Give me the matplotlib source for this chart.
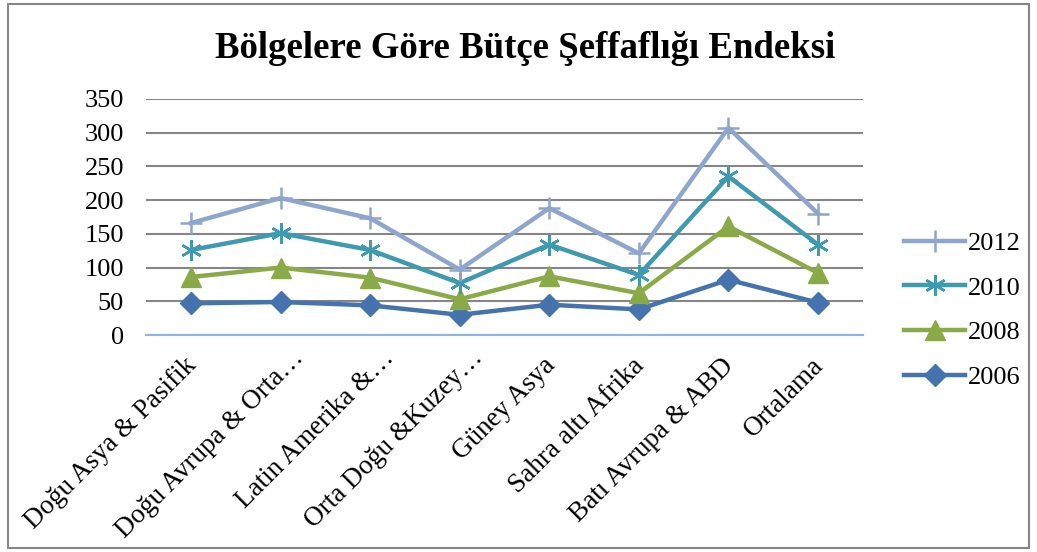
import matplotlib.pyplot as plt
from matplotlib.patches import Rectangle
from matplotlib.transforms import ScaledTranslation

# Data
regions = ['Doğu Asya & Pasifik', 'Doğu Avrupa & Orta…', 'Latin Amerika &…',
           'Orta Doğu &Kuzey…', 'Güney Asya', 'Sahra altı Afrika',
           'Batı Avrupa & ABD', 'Ortalama']
y2012 = [166, 203, 173, 97, 188, 121, 307, 180]
y2010 = [126, 151, 126, 77, 134, 89, 235, 134]
y2008 = [86, 100, 85, 53, 87, 62, 161, 92]
y2006 = [47, 49, 44, 30, 45, 38, 82, 48]

plt.rcParams['font.family'] = ['Liberation Serif', 'DejaVu Serif']

fig = plt.figure(figsize=(10.37, 5.52), dpi=100)
ax = fig.add_axes([0.141, 0.393, 0.691, 0.428])

x = range(len(regions))
lw = 3.2
ax.plot(x, y2012, color='#8EA6CD', lw=lw, marker='+', ms=16, mew=1.8, label='2012', zorder=5)
ax.plot(x, y2010, color='#3E9AAF', lw=lw, marker=(6, 2, 0), ms=15, mew=1.8, label='2010', zorder=4)
ax.plot(x, y2008, color='#8AAA48', lw=lw, marker='^', ms=14, label='2008', zorder=3)
ax.plot(x, y2006, color='#4473AD', lw=lw, marker='D', ms=11, label='2006', zorder=2)

ax.set_xlim(-0.5, len(regions) - 0.5)
ax.set_ylim(0, 350)
ax.set_yticks(range(0, 351, 50))
ax.yaxis.grid(True, color='#868686', lw=1.5)
ax.set_axisbelow(True)
for s in ['top', 'right', 'left']:
    ax.spines[s].set_visible(False)
ax.spines['bottom'].set_color('#8EB4E3')
ax.spines['bottom'].set_linewidth(1.5)
ax.tick_params(axis='y', length=0, labelsize=19, pad=16)
ax.set_xticks(list(x))
ax.set_xticklabels(regions, rotation=45, ha='right', rotation_mode='anchor', fontsize=19.5)
ax.tick_params(axis='x', length=0, pad=8)
# nudge the slanted labels down-left; Excel's truncated ones sit further up-right
for lab in ax.get_xticklabels():
    if lab.get_text().endswith('…'):
        dx, dy = 11, 1
    else:
        dx, dy = -7, -7
    lab.set_transform(lab.get_transform() + ScaledTranslation(dx / 100, dy / 100, fig.dpi_scale_trans))

fig.text(0.506, 0.912, 'Bölgelere Göre Bütçe Şeffaflığı Endeksi',
         ha='center', va='center', fontsize=26.5, fontweight='bold')

ax.legend(loc='center left', bbox_to_anchor=(1.025, 0.105), frameon=False,
          fontsize=19, handlelength=2.3, labelspacing=0.8, handletextpad=0.1)

fig.patches.append(Rectangle((0.008, 0.008), 0.984, 0.984, transform=fig.transFigure,
                             fill=False, edgecolor='#868686', lw=1.5))

fig.savefig('out.png', dpi=100)
